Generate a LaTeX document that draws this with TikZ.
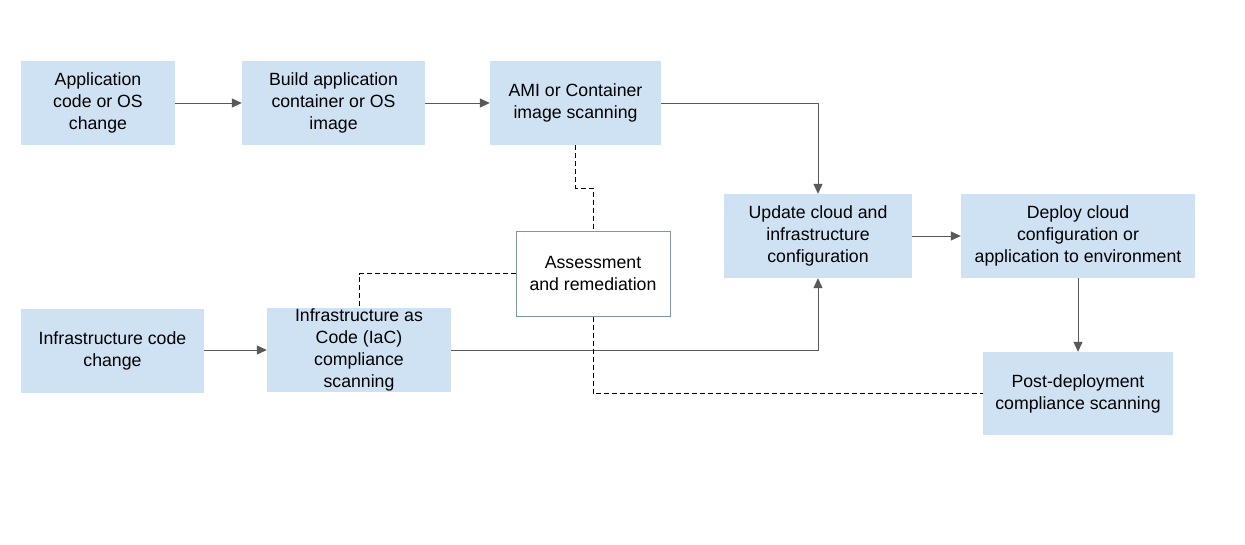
\documentclass[tikz,border=0pt]{standalone}
\usepackage{fontspec}
\setmainfont{Liberation Sans}
\usepackage{xcolor}
\usepackage{tikz}
\usetikzlibrary{calc,positioning,arrows.meta}

\definecolor{stageblue}{HTML}{CFE2F3}
\definecolor{flowgray}{HTML}{595959}
\definecolor{framegray}{HTML}{7F97A3}

\begin{document}
\begin{tikzpicture}[x=1pt, y=-1pt, align=center, font=\fontsize{17.7}{22}\selectfont,
        stage/.style={fill=stageblue, inner sep=0pt, minimum height=84pt},
        flow/.style={draw=flowgray, line width=1pt, -{Triangle[length=10pt, width=9pt]}},
        review/.style={draw=black, line width=1pt, dash pattern=on 5pt off 3pt}]
        \useasboundingbox (0,0) rectangle (1245,544);

        \node [stage, minimum width=154pt] (app) at (98,103) {Application\\code or OS\\change};

        \node [stage, minimum width=183pt] (build) at (333.5,103) {Build application\\container or OS\\image};

        \node [stage, minimum width=171pt] (ami) at (575.5,103) {AMI or Container\\image scanning};

        \node [stage, minimum width=188pt] (update) at (818,236) {Update cloud and\\infrastructure\\configuration};

        \node [stage, minimum width=234pt] (deploy) at (1078,236) {Deploy cloud\\configuration or\\application to environment};

        \node [draw=framegray, line width=1pt, fill=white, inner sep=0pt, minimum width=154pt, minimum height=85pt] (assess) at (593,273.5) {Assessment\\and remediation};

        \node [stage, minimum width=183pt] (infra) at (112.5,350.5) {Infrastructure code\\change};

        \node [stage, minimum width=184pt] (iac) at (359,350) {Infrastructure as\\Code (IaC)\\compliance\\scanning};

        \node [stage, minimum width=190pt, minimum height=83pt] (post) at (1078,393.5) {Post-deployment\\compliance scanning};

        % pipeline
        \draw[flow] (app) -- (build);
        \draw[flow] (build) -- (ami);
        \draw[flow] (ami.east) -| (update.north);
        \draw[flow] (update) -- (deploy);
        \draw[flow] (deploy) -- (post);
        \draw[flow] (infra.east |- iac.east) -- (iac.west);
        \draw[flow] (iac.east) -| (update.south);

        % findings
        \draw[review] (ami.south) -- ++(0,43) -| (assess.north);
        \draw[review] (assess.west) -| (iac.north);
        \draw[review] (assess.south) |- (post.west);

    \end{tikzpicture}
\end{document}
